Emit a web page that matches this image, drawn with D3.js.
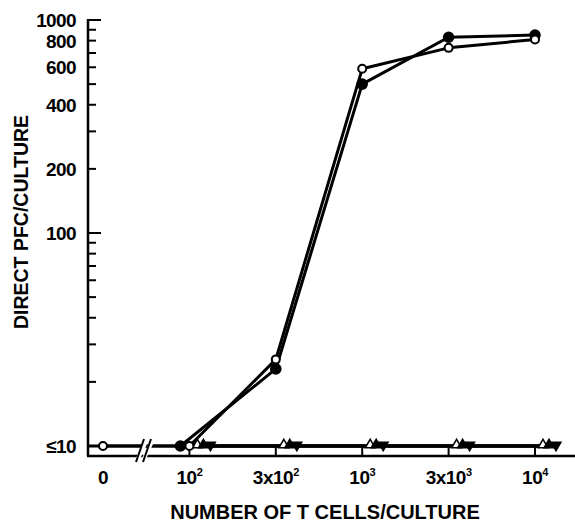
<!DOCTYPE html>
<html>
<head>
<meta charset="utf-8">
<script src="https://cdn.jsdelivr.net/npm/d3@7"></script>
<style>
  body { margin: 0; background: #fff; }
  text { font-family: "Liberation Sans", Arial, sans-serif; font-weight: bold; fill: #000; }
</style>
</head>
<body>
<div id="chart"></div>
<script>
// x categories (evenly spaced on the figure)
var tickBase = ["0", "10", "3x10", "10", "3x10", "10"];
var tickExp  = ["",  "2",  "2",    "3",  "3",    "4"];

// direct PFC per culture, null = not tested
var filledCircle = [null, 10, 23, 500, 830, 850];
var openCircle   = [10,   10, 25.5, 590, 740, 810];
var openTriUp    = [null, 10, 10, 10, 10, 10];
var filledTriUp  = [null, 10, 10, 10, 10, 10];
var filledTriDn  = [null, 10, 10, 10, 10, 10];

var yMajor = [10, 100, 200, 400, 600, 800, 1000];
var yMinor = [20, 30, 40, 50, 60, 70, 80, 90, 300, 500, 700, 900];

var W = 575, H = 523;
var svg = d3.select("#chart").append("svg")
  .attr("width", W).attr("height", H);

var x = d3.scalePoint()
  .domain(d3.range(tickBase.length))
  .range([103, 535]);

var y = d3.scaleLog()
  .domain([10, 1000])
  .range([446, 20]);

var axX = 88, axBottom = 456;

// axes lines
svg.append("line").attr("x1", axX).attr("x2", axX).attr("y1", 19).attr("y2", axBottom)
  .attr("stroke", "#000").attr("stroke-width", 2.5);
svg.append("line").attr("x1", axX - 1).attr("x2", W).attr("y1", axBottom).attr("y2", axBottom)
  .attr("stroke", "#000").attr("stroke-width", 2.5);

// y ticks (pointing inwards)
svg.selectAll(".ymaj").data([100, 200, 400, 600, 800, 1000]).enter().append("line")
  .attr("x1", axX).attr("x2", function(d){ return (d === 100 || d === 1000) ? axX + 13 : axX + 8; })
  .attr("y1", function(d){ return y(d); }).attr("y2", function(d){ return y(d); })
  .attr("stroke", "#000").attr("stroke-width", 2);
svg.selectAll(".ymin").data(yMinor).enter().append("line")
  .attr("x1", axX).attr("x2", axX + 8)
  .attr("y1", function(d){ return y(d); }).attr("y2", function(d){ return y(d); })
  .attr("stroke", "#000").attr("stroke-width", 2);

svg.selectAll(".ylab").data(yMajor).enter().append("text")
  .attr("x", 76)
  .attr("y", function(d){ return y(d) + 7; })
  .attr("text-anchor", "end")
  .attr("font-size", 19)
  .attr("letter-spacing", -0.6)
  .text(function(d){ return d === 10 ? "\u226410" : d; });

// x ticks pointing up (none at 0)
svg.selectAll(".xt").data(d3.range(1, tickBase.length)).enter().append("line")
  .attr("x1", function(i){ return x(i); }).attr("x2", function(i){ return x(i); })
  .attr("y1", axBottom).attr("y2", axBottom - 10)
  .attr("stroke", "#000").attr("stroke-width", 2);

var xl = svg.selectAll(".xlab").data(d3.range(tickBase.length)).enter().append("text")
  .attr("x", function(i){ return x(i); })
  .attr("y", 484)
  .attr("text-anchor", "middle")
  .attr("font-size", 19)
  .attr("letter-spacing", -0.5);
xl.append("tspan").text(function(i){ return tickBase[i]; });
xl.append("tspan").attr("dy", -8).attr("font-size", 11)
  .text(function(i){ return tickExp[i]; });

// axis titles
svg.append("text")
  .attr("x", 325).attr("y", 519)
  .attr("text-anchor", "middle")
  .attr("font-size", 20)
  .text("NUMBER OF T CELLS/CULTURE");
svg.append("text")
  .attr("transform", "translate(28,222) rotate(-90)")
  .attr("text-anchor", "middle")
  .attr("font-size", 19.5)
  .text("DIRECT PFC/CULTURE");

// series: data, marker, horizontal offset at the baseline
var series = [
  {vals: openTriUp,   mark: "triUp",   fill: "#fff", dx: 8},
  {vals: filledTriUp, mark: "triUp",   fill: "#000", dx: 14},
  {vals: filledTriDn, mark: "triDown", fill: "#000", dx: 21},
  {vals: filledCircle, mark: "circle", fill: "#000", dx: -9},
  {vals: openCircle,  mark: "circle",  fill: "#fff", dx: 0}
];

function px(s, i, v) { return x(i) + (v <= 10 ? s.dx : 0); }

// baseline line from the axis through the ≤10 points
svg.append("line").attr("x1", axX).attr("x2", x(5) + 22)
  .attr("y1", y(10)).attr("y2", y(10))
  .attr("stroke", "#000").attr("stroke-width", 3);

var line = d3.line()
  .defined(function(d){ return d.v != null; })
  .x(function(d){ return d.x; })
  .y(function(d){ return y(d.v); });

series.forEach(function(s){
  var pts = s.vals.map(function(v, i){ return {v: v, x: v == null ? 0 : px(s, i, v)}; });
  svg.append("path").datum(pts)
    .attr("d", line)
    .attr("fill", "none").attr("stroke", "#000").attr("stroke-width", 3)
    .attr("stroke-linejoin", "round");
});

series.forEach(function(s){
  var pts = s.vals.map(function(v, i){ return {v: v, i: i}; }).filter(function(d){ return d.v != null; });
  var g = svg.selectAll(null).data(pts).enter();
  if (s.mark === "circle") {
    g.append("circle")
      .attr("cx", function(d){ return px(s, d.i, d.v); })
      .attr("cy", function(d){ return y(d.v); })
      .attr("r", s.fill === "#000" ? 4.8 : 4)
      .attr("fill", s.fill).attr("stroke", "#000").attr("stroke-width", 2);
  } else {
    var sym = d3.symbol().type(d3.symbolTriangle).size(42);
    g.append("path")
      .attr("d", sym)
      .attr("transform", function(d){
        return "translate(" + px(s, d.i, d.v) + "," + (y(d.v) - 1) + ")" + (s.mark === "triDown" ? " rotate(180)" : "");
      })
      .attr("fill", s.fill).attr("stroke", "#000").attr("stroke-width", 1.5);
  }
});

// axis break marks
[142, 148].forEach(function(bx){
  svg.append("rect").attr("x", bx - 2).attr("y", 438).attr("width", 4).attr("height", 24)
    .attr("fill", "#fff").attr("transform", "rotate(25," + bx + ",450)");
});
[140, 147].forEach(function(bx){
  svg.append("line")
    .attr("x1", bx - 4).attr("y1", 462).attr("x2", bx + 4).attr("y2", 439)
    .attr("stroke", "#000").attr("stroke-width", 2);
});
</script>
</body>
</html>
